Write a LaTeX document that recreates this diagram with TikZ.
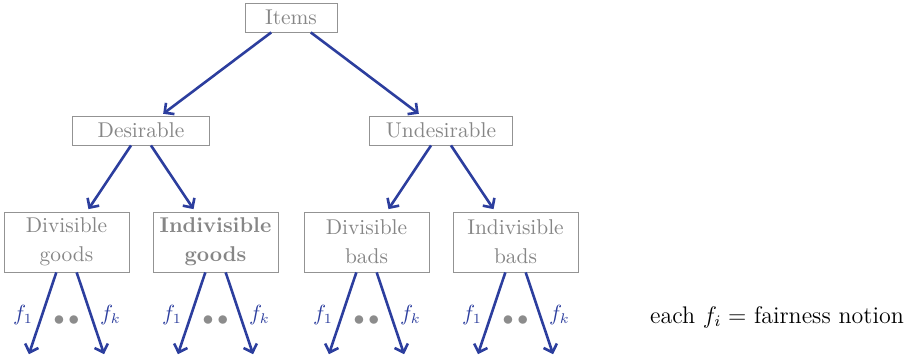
\documentclass[tikz,border=0pt]{standalone}
\usepackage{amsmath,amssymb}
\usepackage[dvipsnames]{xcolor}
\usepackage{tikz}
\usetikzlibrary{arrows.meta,positioning}
\definecolor{tblue}{RGB}{44,62,158}
\tikzset{
  tr/.style={every node/.style={font=\fontsize{10.7}{14.5}\selectfont}, edge from parent/.style={draw, fl}},
  fl/.style={tblue, line width=1.3pt, -{Straight Barb[length=3.5pt,width=7pt]}, shorten >=1.5pt},
  cat/.style={draw=gray!85, line width=0.4pt, text=gray!95, minimum height=14.5pt, minimum width=#1, inner sep=2pt},
  cat/.default=46pt,
  leaf/.style={cat=62.5pt, text width=58pt, align=center, minimum height=30pt},
  fn/.style={text=tblue, midway, inner sep=4pt},
  dts/.style={text=gray!90}
}

\begin{document}
\begin{tikzpicture}[tr, level distance=56.5pt,
  level 1/.style={sibling distance=150pt},
  level 2/.style={sibling distance=74.5pt, level distance=55.75pt},
  level 3/.style={sibling distance=38.5pt, level distance=57.5pt}]
\useasboundingbox (-145.5pt,-171.25pt) rectangle (316.5pt,8.75pt);
\node[cat] (it) {Items}
  child {node[cat=68.5pt] (de) {Desirable}
    child {node[leaf] (dg) {Divisible\\goods}
      child {coordinate (dg1) edge from parent node[fn, left] {$f_1$}}
      child {coordinate (dgk) edge from parent node[fn, right] {$f_k$}}}
    child {node[leaf, font=\fontsize{10.7}{14.5}\selectfont\bfseries] (ig) {Indivisible\\goods}
      child {coordinate (ig1) edge from parent node[fn, left] {$f_1$}}
      child {coordinate (igk) edge from parent node[fn, right] {$f_k$}}}}
  child {node[cat=71.5pt] (un) {Undesirable}
    child {node[leaf] (db) {Divisible\\bads}
      child {coordinate (db1) edge from parent node[fn, left] {$f_1$}}
      child {coordinate (dbk) edge from parent node[fn, right] {$f_k$}}}
    child {node[leaf] (ib) {Indivisible\\bads}
      child {coordinate (ib1) edge from parent node[fn, left] {$f_1$}}
      child {coordinate (ibk) edge from parent node[fn, right] {$f_k$}}}};
% dots between the two notion arrows
\foreach \n in {dg,ig,db,ib}
  \node[dts, below=18pt of \n] (\n d) {$\bullet\,\bullet$};
\node[font=\large] (nt) at (243pt,-149.75pt) {each $f_i =$ fairness notion};
\end{tikzpicture}
\end{document}
